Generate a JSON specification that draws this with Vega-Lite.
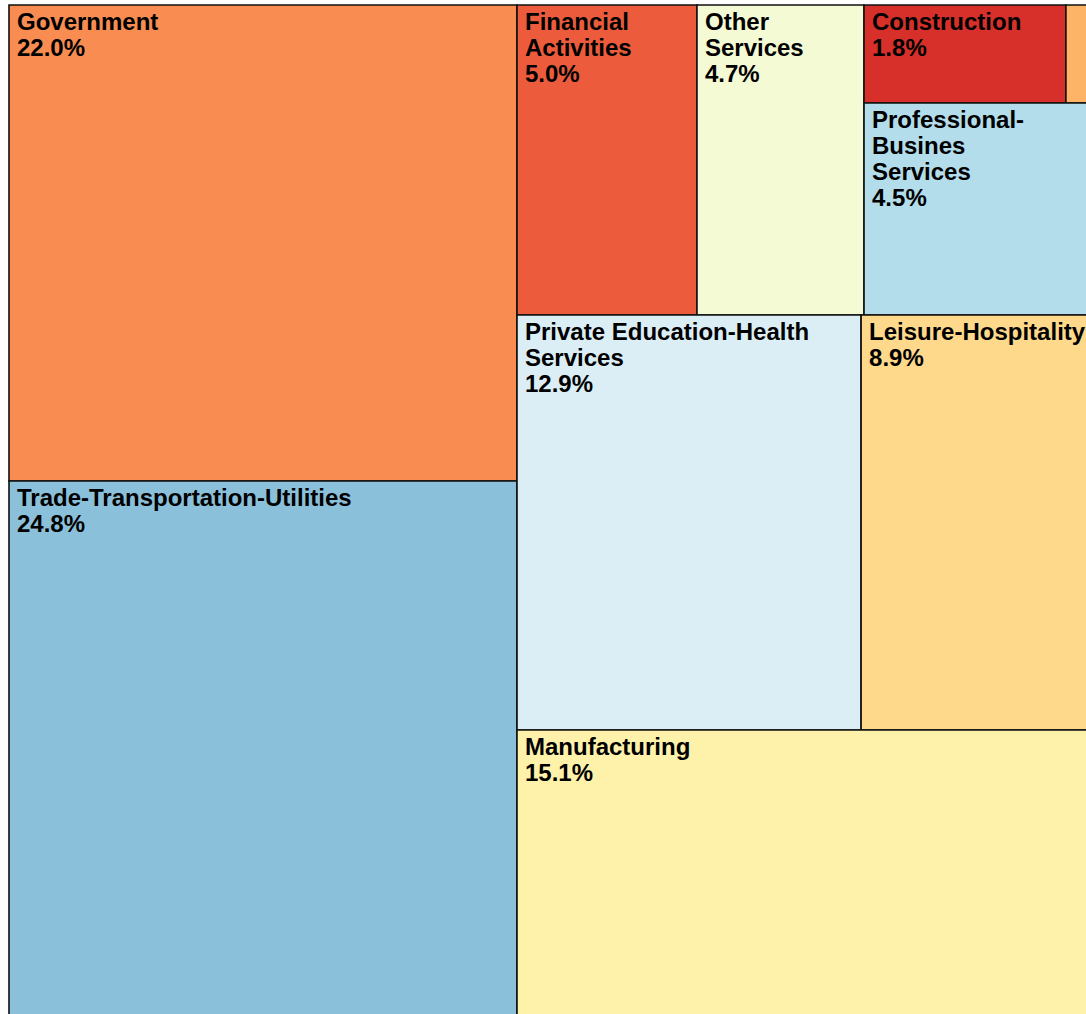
{
  "$schema": "https://vega.github.io/schema/vega-lite/v6.json",
  "width": 1086,
  "height": 1014,
  "padding": 0,
  "autosize": {"type": "none"},
  "background": "white",
  "config": {"view": {"stroke": null}},
  "data": {
    "values": [
      {"name": "Government", "label": "Government", "pct": 22.0, "x0": 0, "x1": 46.8, "y0": 0, "y1": 46.99},
      {"name": "Trade-Transportation-Utilities", "label": "Trade-Transportation-Utilities", "pct": 24.8, "x0": 0, "x1": 46.8, "y0": 46.99, "y1": 100},
      {"name": "Financial Activities", "label": "Financial\nActivities", "pct": 5.0, "x0": 46.8, "x1": 63.38, "y0": 0, "y1": 30.6},
      {"name": "Other Services", "label": "Other\nServices", "pct": 4.7, "x0": 63.38, "x1": 78.77, "y0": 0, "y1": 30.6},
      {"name": "Construction", "label": "Construction", "pct": 1.8, "x0": 78.77, "x1": 97.37, "y0": 0, "y1": 9.67},
      {"name": "Mining-Logging", "label": "Mining-Logging", "pct": 0.3, "x0": 97.37, "x1": 100, "y0": 0, "y1": 9.67},
      {"name": "Professional-Busines Services", "label": "Professional-\nBusines\nServices", "pct": 4.5, "x0": 78.77, "x1": 100, "y0": 9.67, "y1": 30.6},
      {"name": "Private Education-Health Services", "label": "Private Education-Health\nServices", "pct": 12.9, "x0": 46.8, "x1": 78.5, "y0": 30.6, "y1": 71.57},
      {"name": "Leisure-Hospitality", "label": "Leisure-Hospitality", "pct": 8.9, "x0": 78.5, "x1": 100, "y0": 30.6, "y1": 71.57},
      {"name": "Manufacturing", "label": "Manufacturing", "pct": 15.1, "x0": 46.8, "x1": 100, "y0": 71.57, "y1": 100}
    ]
  },
  "layer": [
    {
      "mark": {"type": "rect", "stroke": "#111111", "strokeWidth": 1.6},
      "encoding": {
        "x": {"field": "x0", "type": "quantitative", "scale": {"domain": [-0.829, 99.22], "nice": false, "zero": false}, "axis": null},
        "x2": {"field": "x1"},
        "y": {"field": "y0", "type": "quantitative", "scale": {"domain": [-0.494, 99.6], "reverse": true, "nice": false, "zero": false}, "axis": null},
        "y2": {"field": "y1"},
        "color": {
          "field": "name",
          "type": "nominal",
          "legend": null,
          "scale": {
            "domain": ["Government", "Trade-Transportation-Utilities", "Financial Activities", "Other Services", "Construction", "Mining-Logging", "Professional-Busines Services", "Private Education-Health Services", "Leisure-Hospitality", "Manufacturing"],
            "range": ["#F88C51", "#8BC0DB", "#EC5C3C", "#F4FAD3", "#D7302A", "#FDB466", "#B3DDEB", "#DBEEF5", "#FED98B", "#FEF2AA"]
          }
        }
      }
    },
    {
      "transform": [
        {"filter": "datum.pct >= 1"},
        {"calculate": "datum.label + '\\n' + format(datum.pct, '.1f') + '%'", "as": "txt"}
      ],
      "mark": {"type": "text", "align": "left", "baseline": "top", "dx": 8, "dy": 6, "fontSize": 24, "fontWeight": "bold", "font": "Liberation Sans", "lineHeight": 26, "lineBreak": "\n", "color": "black"},
      "encoding": {
        "x": {"field": "x0", "type": "quantitative", "scale": {"domain": [-0.829, 99.22], "nice": false, "zero": false}, "axis": null},
        "y": {"field": "y0", "type": "quantitative", "scale": {"domain": [-0.494, 99.6], "reverse": true, "nice": false, "zero": false}, "axis": null},
        "text": {"field": "txt"}
      }
    }
  ]
}
